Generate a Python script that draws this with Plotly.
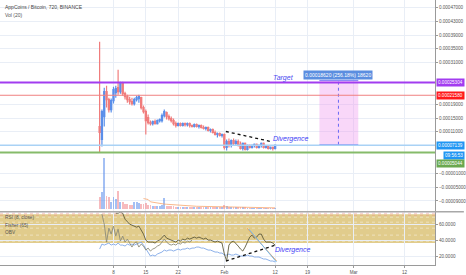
import plotly.graph_objects as go
import pandas as pd

# ---------------- data (prices in satoshi = 1e-8 BTC) ----------------
SAT = 1e-8
candle_start = "2018-01-05 00:00"
open_sat = [12540, 8790, 15420, 22620, 20320, 17440, 20030, 22340, 23780, 22620,
            25220, 22050, 21180, 20320, 19740, 19170, 20320, 20610, 20890, 18010,
            16860, 15130, 13690, 13400, 13980, 13400, 14270, 14270, 15710, 16570,
            15420, 14840, 14270, 13400, 12830, 13400, 12830, 13400, 13110, 13400,
            12830, 12540, 13110, 12540, 12830, 12250, 11960, 12250, 11380, 11670,
            10810, 10230, 10520, 9940, 10230, 6480, 8210, 7060, 8500, 7640,
            8210, 7350, 6200, 7640, 5910, 7060, 6480, 7060, 7350, 6480,
            7060, 7640, 6480, 6770, 6200, 6480, 6200]
high_sat = [37030, 17440, 23780, 24350, 20890, 20610, 24070, 24350, 28960, 25510,
            25510, 22620, 21760, 21180, 20890, 20890, 21470, 21760, 21180, 18590,
            17440, 16000, 14270, 14270, 14550, 14550, 14840, 16280, 17440, 16860,
            16000, 15420, 14840, 13980, 13690, 13690, 13690, 13690, 13690, 13690,
            13110, 13400, 13400, 13110, 13110, 12830, 12540, 12540, 11960, 11960,
            11380, 10810, 10810, 10520, 10520, 8790, 9080, 8790, 9080, 8790,
            8790, 8210, 7930, 7930, 7350, 7350, 7350, 7640, 7640, 7350,
            7930, 7930, 7060, 7060, 6770, 6770, 7350]
low_sat = [5040, 6770, 12540, 18010, 16570, 16570, 19170, 20890, 21760, 22050,
           21470, 20320, 19450, 18880, 18590, 18590, 19740, 19450, 17440, 16280,
           10230, 13110, 12830, 12830, 13110, 13110, 13690, 13690, 15130, 14550,
           14270, 13690, 12830, 12250, 12540, 12540, 12540, 12540, 12540, 12250,
           12250, 12250, 12250, 11960, 11960, 11670, 11380, 11100, 10810, 10520,
           9940, 9370, 9660, 9370, 5910, 5620, 6480, 6480, 7060, 7060,
           6770, 5910, 5620, 5620, 5620, 6200, 6200, 6480, 6200, 6200,
           6480, 6200, 6200, 5910, 5910, 5620, 5910]
close_sat = [10810, 16860, 22620, 20320, 17440, 20030, 23200, 23490, 22620, 25220,
             22050, 21180, 20320, 19740, 19170, 20320, 20890, 21180, 18010, 16860,
             14270, 13690, 13400, 13980, 13400, 14270, 14550, 15710, 16860, 15420,
             14840, 14270, 13400, 12830, 13400, 12830, 13400, 13110, 13400, 12830,
             12540, 13110, 12540, 12830, 12250, 11960, 12250, 11380, 11670, 10810,
             10230, 10520, 9940, 10230, 6480, 8210, 7060, 8500, 7640, 8210,
             7350, 6200, 7640, 5910, 7060, 6480, 7060, 7350, 6480, 7060,
             7640, 6480, 6770, 6200, 6480, 6200, 7139]
volume = [12000, 17000, 51000, 13000, 12000, 7000, 12000, 10000, 18000, 7000,
          7000, 5000, 5000, 4000, 4000, 7000, 7000, 6000, 5000, 5000,
          6000, 4000, 4000, 3000, 3000, 3000, 3000, 4000, 11000, 3000,
          3000, 3000, 3000, 2000, 2000, 2000, 2000, 2000, 2000, 2000,
          2000, 2000, 2000, 2000, 2000, 2000, 2000, 2000, 2000, 2000,
          2000, 2000, 2000, 2000, 4000, 3000, 2000, 2000, 2000, 2000,
          2000, 2000, 2000, 2000, 1000, 1000, 1000, 1000, 1000, 1000,
          1000, 1000, 1000, 1000, 1000, 1000, 1000]

rsi_vals = [None, 72.5, 60, 37.5, 55, 47.5, 57.5, 45, 53.75, 38.75,
            45, 37.5, 41.25, 36.25, 31.25, 36.25, 37.5, 31.25, 35, 32.5,
            27.5, 30, 26.25, 28.75, 30, 32.5, 33.75, 37.5, 41.25, 37.5,
            35, 33.75, 35, 33.75, 36.25, 35, 37.5, 36.25, 38.75, 37.5, 40] + [None] * 36
fisher_vals = [None] * 7 + [73.75, 73.75, 75, 73.75, 66.25, 62.5, 60, 58.75, 57.5, 56.25,
                            57.5, 52.5, 47.5, 40, 37.5, 37.5, 37.5, 36.25, 38.75, 40,
                            43.75, 46.25, 42.5, 41.25, 40, 38.75, 37.5, 40, 38.75, 41.25,
                            40, 42.5, 41.25, 42.5, 43.75, 42.5, 43.75, 42.5, 41.25, 42.5,
                            40, 40, 38.75, 37.5, 38.75, 37.5, 36.25, 22.5, 13.75, 33.75,
                            37.5, 38.75, 36.25, 32.5, 28.75, 26.25, 31.25, 37.5, 43.75, 46.25,
                            42.5, 43.75, 47.5, 47.5, 41.25, 37.5, 37.5, 37.5, 36.25, 33.75]
obv_vals = [28.75, 35, 33.75, 35, 36.25, 33.75, 35, 33.75, 36.25, 33.75,
            33.75, 32.5, 35, 33.75, 35, 33.75, 35, 36.25, 37.5, 33.75,
            28.75, 25, 20, 21.25, 20, 22.5, 23.75, 25, 27.5, 26.25,
            27.5, 27.5, 26.25, 27.5, 28.75, 27.5, 28.75, 28.75, 30, 28.75,
            30, 30, 31.25, 31.25, 30, 30, 28.75, 27.5, 27.5, 26.25,
            25, 25, 23.75, 23.75, 21.25, 21.25, 22.5, 21.25, 21.25, 22.5,
            21.25, 20, 20, 20, 21.25, 20, 20, 18.75, 18.75, 18.75,
            17.5, 16.25, 16.25, 15, 13.75, 13.75, 12.5]

n = len(close_sat)
for arr in (open_sat, high_sat, low_sat, volume, rsi_vals, fisher_vals, obv_vals):
    assert len(arr) == n, len(arr)

# horizontal levels
level_target = 0.00025304
level_red = 0.00021580
level_last = 0.00007139
level_green = 0.00005044

# drawings
main_div_x = ["2018-02-01 08:00", "2018-02-11 01:00"]
main_div_y = [0.00011096, 0.00008214]
rsi_div_x = ["2018-02-01 08:00", "2018-02-12 02:00"]
rsi_div_y = [13.75, 33.75]
orange_x = ["2018-02-05 22:00", "2018-02-12 07:00"]
orange_y = [55, 13.75]
lblue_x = ["2018-02-06 07:00", "2018-02-12 07:00"]
lblue_y = [53.75, 12.5]
meas_x = ["2018-02-21 14:00", "2018-03-02 00:00"]
meas_mid = "2018-02-25 17:00"
meas_low, meas_high = 0.00007268, 0.00025888

xtick_vals = ["2018-01-08", "2018-01-15", "2018-01-22", "2018-02-01", "2018-02-12",
              "2018-02-19", "2018-03-01", "2018-03-12"]
xtick_text = ["8", "15", "22", "Feb", "12", "19", "Mar", "12"]
price_ticks = [0.00047, 0.00043, 0.00039, 0.00035, 0.00031, 0.00019, 0.00015,
               0.00011, -0.00001, -0.00005, -0.00009]
rsi_ticks = [20, 40, 60]

# ---------------- figure ----------------
dates = pd.date_range(candle_start, periods=n, freq="12h")
o = [v * SAT for v in open_sat]
h = [v * SAT for v in high_sat]
l = [v * SAT for v in low_sat]
c = [v * SAT for v in close_sat]
vol_colors = ["rgba(90,140,235,0.55)" if cc >= oo else "rgba(240,120,125,0.5)"
              for oo, cc in zip(o, c)]
vol_sma = pd.Series(volume).rolling(20).mean()

GRID = "#e9eef6"
AX = "#9a9a9a"
TXT = "#555555"
FONT = "Liberation Sans, Arial, sans-serif"

fig = go.Figure()
fig.add_trace(go.Bar(x=dates, y=volume, marker=dict(color=vol_colors, line=dict(width=0)),
                     width=0.8 * 12 * 3600 * 1000, xaxis="x", yaxis="y2"))
fig.add_trace(go.Scatter(x=dates, y=vol_sma, mode="lines", xaxis="x", yaxis="y2",
                         line=dict(color="rgba(247,160,100,0.75)", width=1)))
fig.add_trace(go.Candlestick(x=dates, open=o, high=h, low=l, close=c, xaxis="x", yaxis="y",
                             whiskerwidth=0,
                             increasing=dict(line=dict(color="#5a8fea", width=1.2), fillcolor="#3f7de6"),
                             decreasing=dict(line=dict(color="#f07c7c", width=1.2), fillcolor="#ee2b2b")))
fig.add_trace(go.Scatter(x=main_div_x, y=main_div_y, mode="lines", xaxis="x", yaxis="y",
                         line=dict(color="#111111", width=1.3, dash="dot")))

# lower pane
fig.add_trace(go.Scatter(x=dates, y=obv_vals, mode="lines", xaxis="x2", yaxis="y3",
                         line=dict(color="#7fa7e6", width=0.9)))
fig.add_trace(go.Scatter(x=dates, y=rsi_vals, mode="lines", xaxis="x2", yaxis="y3",
                         line=dict(color="#8c8c7c", width=0.9)))
fig.add_trace(go.Scatter(x=dates, y=fisher_vals, mode="lines", xaxis="x2", yaxis="y3",
                         line=dict(color="#5e5a3c", width=0.9)))
fig.add_trace(go.Scatter(x=orange_x, y=orange_y, mode="lines", xaxis="x2", yaxis="y3",
                         line=dict(color="#f5a050", width=1)))
fig.add_trace(go.Scatter(x=lblue_x, y=lblue_y, mode="lines", xaxis="x2", yaxis="y3",
                         line=dict(color="#6fb8f0", width=1)))
fig.add_trace(go.Scatter(x=rsi_div_x, y=rsi_div_y, mode="lines", xaxis="x2", yaxis="y3",
                         line=dict(color="#111111", width=1.3, dash="dot")))

x_range = ["2017-12-14 10:20", "2018-03-18 14:40"]
main_dom = [0.2030, 1.0]
low_dom = [0.0, 0.1992]

shapes = [
    dict(type="rect", xref="paper", x0=0, x1=1, yref="y3", y0=36.25, y1=72.5,
         fillcolor="rgba(214,184,96,0.72)", line=dict(width=0), layer="between"),
    dict(type="rect", xref="x", x0=meas_x[0], x1=meas_x[1], yref="y", y0=meas_low, y1=meas_high,
         fillcolor="rgba(240,150,240,0.38)", line=dict(width=0), layer="between"),
    dict(type="line", xref="x", x0=meas_x[0], x1=meas_x[1], yref="y", y0=meas_low, y1=meas_low,
         line=dict(color="#7b7bf5", width=1)),
    dict(type="line", xref="x", x0=meas_x[0], x1=meas_x[1], yref="y", y0=meas_high, y1=meas_high,
         line=dict(color="#7b7bf5", width=1)),
    dict(type="line", xref="x", x0=meas_mid, x1=meas_mid, yref="y", y0=meas_low, y1=meas_high * 0.985,
         line=dict(color="#6a6af5", width=1, dash="dot")),
    dict(type="line", xref="paper", x0=0, x1=1, yref="y", y0=level_target, y1=level_target,
         line=dict(color="#a23cf0", width=2)),
    dict(type="line", xref="paper", x0=0, x1=1, yref="y", y0=level_red, y1=level_red,
         line=dict(color="#f08080", width=1)),
    dict(type="line", xref="paper", x0=0, x1=1, yref="y", y0=level_last, y1=level_last,
         line=dict(color="#a9d2f5", width=1.5)),
    dict(type="line", xref="paper", x0=0, x1=1, yref="y", y0=level_green, y1=level_green,
         line=dict(color="#86bb6a", width=2)),
    dict(type="line", xref="paper", x0=0, x1=466 / 437, yref="paper", y0=0.2011, y1=0.2011,
         line=dict(color="#a8a8a8", width=1.5)),
]
for lv, col in [(73.75, "rgba(235,120,120,0.55)"), (71.25, "rgba(235,120,120,0.45)"),
                (68.75, "rgba(255,255,255,0.55)"), (62.5, "rgba(255,255,255,0.55)"),
                (55, "rgba(255,255,255,0.55)"), (46.25, "rgba(255,255,255,0.55)"),
                (38.75, "rgba(255,255,255,0.55)")]:
    shapes.append(dict(type="line", xref="paper", x0=0, x1=1, yref="y3", y0=lv, y1=lv,
                       line=dict(color=col, width=0.8, dash="dot"), layer="between"))

def lbl(text, y, bg, yref="y", xshift=1):
    return dict(text=text, xref="paper", x=1, xanchor="left", xshift=xshift, yref=yref, y=y,
                yanchor="middle", showarrow=False, bgcolor=bg, borderpad=1,
                font=dict(size=4.6, color="white", family=FONT))

annotations = [
    dict(text="AppCoins / Bitcoin, 720, BINANCE", xref="paper", x=0.007, xanchor="left",
         yref="paper", y=1 - 6.7 / 266, yanchor="middle", showarrow=False,
         font=dict(size=5, color="#444444", family=FONT)),
    dict(text="Vol (20)", xref="paper", x=0.007, xanchor="left",
         yref="paper", y=1 - 14.7 / 266, yanchor="middle", showarrow=False,
         font=dict(size=5, color=TXT, family=FONT)),
    dict(text="RSI (8, close)", xref="paper", x=0.007, xanchor="left",
         yref="paper", y=1 - 218 / 266, yanchor="middle", showarrow=False,
         font=dict(size=4.8, color=TXT, family=FONT)),
    dict(text="Fisher (65)", xref="paper", x=0.007, xanchor="left",
         yref="paper", y=1 - 226 / 266, yanchor="middle", showarrow=False,
         font=dict(size=4.8, color=TXT, family=FONT)),
    dict(text="OBV", xref="paper", x=0.007, xanchor="left",
         yref="paper", y=1 - 233 / 266, yanchor="middle", showarrow=False,
         font=dict(size=4.8, color=TXT, family=FONT)),
    dict(text="<i>Target</i>", xref="x", x="2018-02-11 01:00", xanchor="left", yref="y",
         y=0.0002666, yanchor="middle", showarrow=False,
         font=dict(size=7, color="#4d4df0", family=FONT)),
    dict(text="<i>Divergence</i>", xref="x", x="2018-02-11 01:00", xanchor="left", yref="y",
         y=0.0000879, yanchor="middle", showarrow=False,
         font=dict(size=7, color="#3d3df5", family=FONT)),
    dict(text="<i>Divergence</i>", xref="x2", x="2018-02-11 12:00", xanchor="left", yref="y3",
         y=27.5, yanchor="middle", showarrow=False,
         font=dict(size=7, color="#3d3df5", family=FONT)),
    dict(text="0.00018620 (256.18%) 18620", xref="x", x=meas_mid, xanchor="center", yref="y",
         y=0.0002738, yanchor="middle", showarrow=False, bgcolor="#5b8ee0", borderpad=1,
         font=dict(size=5, color="white", family=FONT)),
    lbl("0.00025304", level_target, "#a23cf0"),
    lbl("0.00021580", level_red, "#ff1a1a"),
    lbl("0.00007139", level_last, "#2196f3"),
    lbl("09:56:53", 1 - 156.5 / 266, "#2196f3", yref="paper", xshift=8),
    lbl("0.00005044", 1 - 164 / 266, "#6aa84f", yref="paper"),
]

fig.update_layout(
    width=466, height=275, margin=dict(l=0, r=29, t=0, b=9),
    paper_bgcolor="white", plot_bgcolor="white", showlegend=False,
    font=dict(family=FONT, size=5, color=TXT),
    bargap=0,
    xaxis=dict(domain=[0, 1], anchor="y", type="date", range=x_range, showticklabels=False,
               tickvals=xtick_vals, showgrid=True, gridcolor=GRID, gridwidth=1,
               zeroline=False, showline=False, rangeslider=dict(visible=False)),
    xaxis2=dict(domain=[0, 1], anchor="y3", type="date", range=x_range, matches="x",
                tickvals=xtick_vals, ticktext=xtick_text, showgrid=True, gridcolor=GRID,
                tickfont=dict(size=4.6, color=TXT), showline=True, linecolor=AX, linewidth=1,
                ticks="outside", ticklen=2, tickcolor=AX, zeroline=False,
                rangeslider=dict(visible=False)),
    yaxis=dict(domain=main_dom, anchor="x", side="right", range=[-0.0001196, 0.00049138],
               tickvals=price_ticks, tickformat=".8f", tickfont=dict(size=4.6, color=TXT),
               showgrid=True, gridcolor=GRID, showline=True, linecolor=AX, linewidth=1,
               ticks="outside", ticklen=2, tickcolor=AX, zeroline=False),
    yaxis2=dict(overlaying="y", range=[-2000, 210000], visible=False, showgrid=False,
                zeroline=False),
    yaxis3=dict(domain=low_dom, anchor="x2", side="right", range=[8.75, 75],
                tickvals=rsi_ticks, tickformat=".4f", tickfont=dict(size=4.6, color=TXT),
                showgrid=True, gridcolor=GRID, showline=True, linecolor=AX, linewidth=1,
                ticks="outside", ticklen=2, tickcolor=AX, zeroline=False),
    shapes=shapes, annotations=annotations,
)

fig.write_html("out.html")
